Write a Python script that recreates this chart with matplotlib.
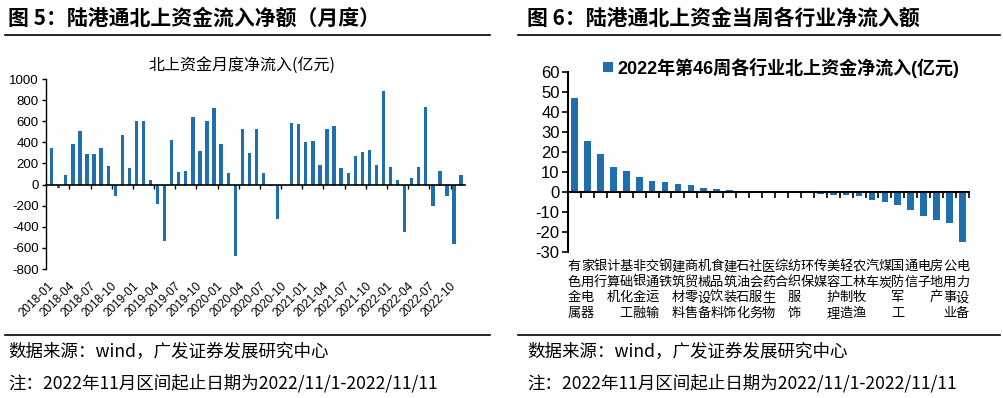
import matplotlib
matplotlib.use('Agg')
import matplotlib.pyplot as plt
import matplotlib.transforms as mtransforms
from matplotlib.lines import Line2D
from matplotlib.font_manager import FontProperties

# ---------------- data ----------------
left_title = '北上资金月度净流入(亿元)'
left_values = [350, -30, 90, 380, 505, 285, 285, 350, 175, -105, 465, 160,
               605, 600, 40, -180, -535, 425, 120, 130, 640, 315, 600, 725,
               380, 110, -675, 530, 300, 525, 105, -10, -325, 0, 582, 572,
               402, 415, 189, 528, 557, 157, 110, 267, 305, 330, 185, 887,
               167, 41, -447, 66, 167, 730, -204, 126, -110, -566, 94]
left_ticklabels = ['2018-01', '2018-04', '2018-07', '2018-10',
                   '2019-01', '2019-04', '2019-07', '2019-10',
                   '2020-01', '2020-04', '2020-07', '2020-10',
                   '2021-01', '2021-04', '2021-07', '2021-10',
                   '2022-01', '2022-04', '2022-07', '2022-10']
left_yticks = [-800, -600, -400, -200, 0, 200, 400, 600, 800, 1000]

right_series = '2022年第46周各行业北上资金净流入(亿元)'
industries = ['有色金属', '家用电器', '银行', '计算机', '基础化工', '非银金融', '交通运输',
              '钢铁', '建筑材料', '商贸零售', '机械设备', '食品饮料', '建筑装饰', '石油石化',
              '社会服务', '医药生物', '综合', '纺织服饰', '环保', '传媒', '美容护理',
              '轻工制造', '农林牧渔', '汽车', '煤炭', '国防军工', '通信', '电子',
              '房地产', '公用事业', '电力设备']
right_values = [47.1, 25.5, 19.1, 12.6, 10.7, 7.6, 5.7, 5.4, 4.0, 3.7, 2.2, 1.5, 1.4,
                0.4, 0.2, 0.1, -0.1, -0.2, -0.5, -1.0, -1.2, -1.4, -1.8, -4.0, -4.9,
                -6.4, -8.7, -11.7, -13.8, -15.3, -24.8]
right_yticks = [-30, -20, -10, 0, 10, 20, 30, 40, 50, 60]

title_left = '图 5：陆港通北上资金流入净额（月度）'
title_right = '图 6：陆港通北上资金当周各行业净流入额'
source_text = '数据来源：wind，广发证券发展研究中心'
note_text = '注：2022年11月区间起止日期为2022/11/1-2022/11/11'

# ---------------- style ----------------
BLUE = '#1f6fae'
CJK = ['Noto Sans CJK SC', 'DejaVu Sans']
LAT = ['Liberation Sans', 'Noto Sans CJK SC']

W, H = 1004, 398
fig = plt.figure(figsize=(W / 100, H / 100), dpi=100)


def fx(x):
    return x / W


def fy(y):
    return 1 - y / H


def hline(x0, x1, y, lw=1.2):
    fig.add_artist(Line2D([fx(x0), fx(x1)], [fy(y), fy(y)], color='black', lw=lw,
                          transform=fig.transFigure))


# headers
fig.text(fx(8), fy(18), title_left, fontsize=15, fontweight='bold', family=CJK,
         ha='left', va='center')
fig.text(fx(527), fy(18), title_right, fontsize=15, fontweight='bold', family=CJK,
         ha='left', va='center')
hline(5, 490, 35)
hline(518, 1000, 35)

# footers
hline(5, 490, 335)
hline(518, 1000, 335)
for x0 in (8, 527):
    fig.text(fx(x0), fy(352), source_text, fontsize=12.6, family=CJK, ha='left', va='center')
    fig.text(fx(x0), fy(383), note_text, fontsize=12.6, family=CJK, ha='left', va='center')

# ---------------- left chart ----------------
ax1 = fig.add_axes([fx(45.7), fy(269), (465 - 45.7) / W, (269 - 79) / H])
ax1.bar(range(len(left_values)), left_values, width=0.47, color=BLUE)
ax1.set_xlim(-0.85, len(left_values) - 0.45)
ax1.set_ylim(-800, 1000)
ax1.set_yticks(left_yticks)
ax1.set_yticklabels([str(v) for v in left_yticks], family=LAT, fontsize=9.5)
for s in ('top', 'right'):
    ax1.spines[s].set_visible(False)
ax1.spines['bottom'].set_position(('data', 0))
ax1.spines['bottom'].set_linewidth(1.2)
ax1.spines['left'].set_linewidth(1.0)
ax1.set_xticks([2.5 + 3 * k for k in range(19)])
ax1.tick_params(axis='x', length=3, width=1, direction='out', labelbottom=False)
ax1.tick_params(axis='y', length=3, width=1, direction='out', pad=2)
tr1 = mtransforms.blended_transform_factory(ax1.transData, ax1.transAxes)
for i, lab in enumerate(left_ticklabels):
    ax1.annotate(lab, xy=(3 * i, 0), xycoords=tr1, xytext=(-4, -11),
                 textcoords='offset pixels', rotation=45, ha='right', va='top',
                 rotation_mode='anchor', fontsize=8.5, family=LAT, annotation_clip=False)
fig.text(fx(241.5), fy(66), left_title, fontsize=11.5, family=CJK, ha='center', va='center')

# ---------------- right chart ----------------
ax2 = fig.add_axes([fx(568), fy(252.3), (969 - 568) / W, 180 / H])
ax2.bar(range(len(right_values)), right_values, width=0.52, color=BLUE, label=right_series)
ax2.set_xlim(-0.5, len(right_values) - 0.5)
ax2.set_ylim(-30, 60)
ax2.set_yticks(right_yticks)
ax2.set_yticklabels([str(v) for v in right_yticks], family=LAT, fontsize=12)
for s in ('top', 'right'):
    ax2.spines[s].set_visible(False)
ax2.spines['bottom'].set_position(('data', 0))
ax2.spines['bottom'].set_linewidth(1.5)
ax2.spines['left'].set_linewidth(1.5)
ax2.set_xticks([k - 0.5 for k in range(len(right_values) + 1)])
ax2.tick_params(axis='x', length=4, width=1.2, direction='out', labelbottom=False)
ax2.tick_params(axis='y', length=4, width=1.2, direction='out', pad=2)
tr2 = mtransforms.blended_transform_factory(ax2.transData, ax2.transAxes)
for k, name in enumerate(industries):
    for j, ch in enumerate(name):
        ax2.annotate(ch, xy=(k, 0), xycoords=tr2, xytext=(0, -(14.4 + 15.5 * j)),
                     textcoords='offset pixels', ha='center', va='center',
                     fontsize=9.5, family=CJK, annotation_clip=False)
leg = ax2.legend(loc='center left', bbox_to_anchor=(fx(603), fy(67.5)),
                 bbox_transform=fig.transFigure, frameon=False, borderpad=0,
                 borderaxespad=0, handlelength=0.55, handleheight=0.5, handletextpad=0.25,
                 prop=FontProperties(family=LAT, weight='bold', size=13))

fig.savefig('out.png', dpi=100)
